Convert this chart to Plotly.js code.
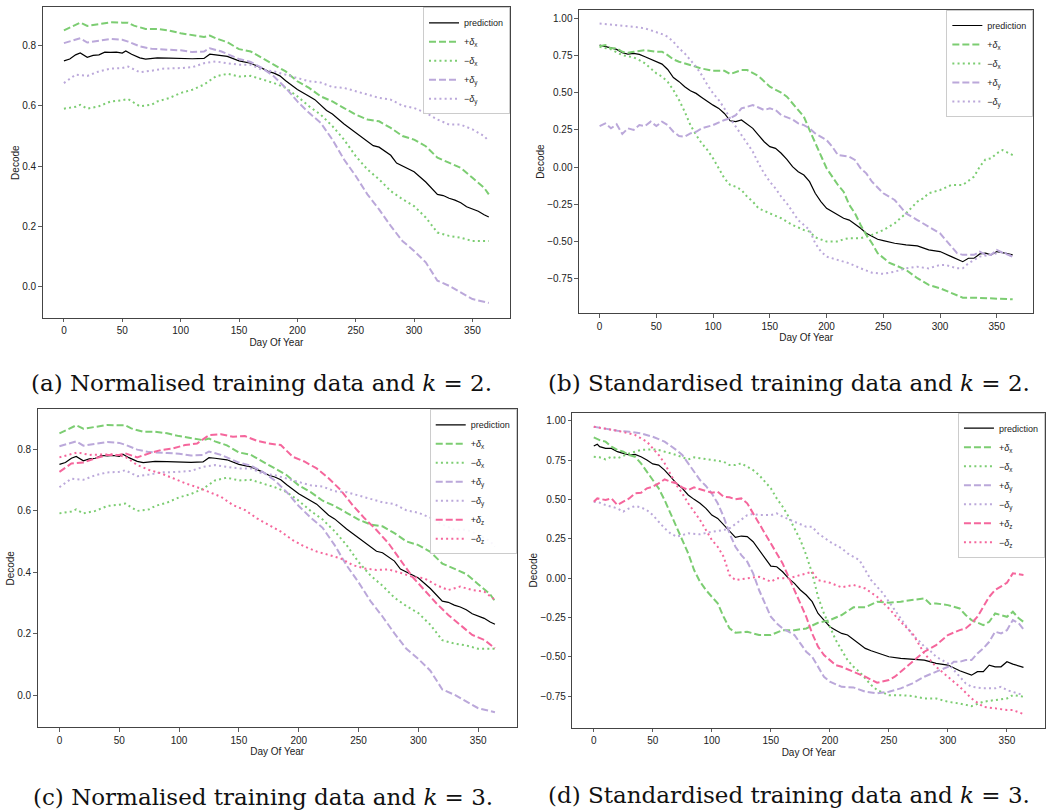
<!DOCTYPE html>
<html>
<head>
<meta charset="utf-8">
<script src="https://cdn.plot.ly/plotly-3.0.1.min.js"></script>
<style>
  html, body { margin: 0; padding: 0; background: #fff; }
  #chart { width: 1046px; height: 812px; }
</style>
</head>
<body>
<div id="chart"></div>
<script>
// ---------- Normalised training data (shared by panels a and c) ----------
const nPredDays = [0,5,10,14,20,25,30,35,40,45,50,53,58,65,70,80,90,100,110,120,125,130,140,150,160,170,175,180,185,190,200,210,215,225,230,240,250,260,265,270,280,285,290,300,310,315,320,325,330,335,340,345,350,355,360,364];
const nPredVals = [0.750,0.756,0.770,0.776,0.762,0.768,0.770,0.779,0.778,0.779,0.776,0.783,0.772,0.760,0.756,0.760,0.759,0.757,0.757,0.758,0.772,0.770,0.765,0.750,0.742,0.725,0.715,0.709,0.700,0.684,0.655,0.632,0.621,0.585,0.573,0.540,0.512,0.484,0.468,0.463,0.436,0.410,0.401,0.381,0.347,0.326,0.306,0.302,0.293,0.287,0.278,0.265,0.257,0.250,0.238,0.231];

const nPxDays = [0,10,14,20,30,40,50,55,60,70,80,90,100,110,120,125,130,140,150,160,170,180,185,190,200,210,220,230,240,250,260,270,280,290,300,310,320,330,340,350,360,364];
const nPxVals = [0.851,0.870,0.877,0.866,0.873,0.878,0.877,0.877,0.867,0.856,0.856,0.851,0.842,0.836,0.829,0.834,0.825,0.812,0.789,0.781,0.759,0.737,0.726,0.715,0.682,0.660,0.632,0.615,0.593,0.571,0.555,0.549,0.527,0.500,0.488,0.466,0.428,0.411,0.394,0.361,0.328,0.306];

const nMxDays = [0,10,14,20,30,40,50,55,65,75,80,90,100,110,120,130,140,150,160,170,180,190,200,210,220,230,240,250,260,270,280,290,300,310,320,330,340,350,364];
const nMxVals = [0.591,0.597,0.604,0.591,0.599,0.615,0.619,0.623,0.599,0.604,0.615,0.626,0.643,0.654,0.671,0.698,0.707,0.698,0.700,0.687,0.676,0.660,0.632,0.599,0.571,0.533,0.488,0.433,0.389,0.356,0.317,0.290,0.267,0.229,0.179,0.168,0.162,0.151,0.151];

const nPyDays = [0,10,14,20,30,40,50,55,65,75,90,100,110,120,125,135,150,160,170,180,190,200,210,220,230,240,250,260,270,280,290,300,310,320,330,340,350,364];
const nPyVals = [0.809,0.820,0.825,0.811,0.818,0.823,0.820,0.814,0.798,0.790,0.787,0.785,0.779,0.781,0.792,0.781,0.756,0.746,0.726,0.698,0.660,0.615,0.577,0.544,0.488,0.422,0.367,0.306,0.256,0.201,0.151,0.118,0.080,0.019,0.002,-0.020,-0.042,-0.055];

const nMyDays = [0,10,20,30,40,50,55,65,75,85,100,110,120,130,140,150,160,170,180,190,200,210,220,230,240,250,260,270,280,290,300,310,320,330,340,350,360,364];
const nMyVals = [0.676,0.704,0.700,0.715,0.724,0.726,0.731,0.712,0.717,0.724,0.726,0.729,0.742,0.748,0.742,0.737,0.737,0.720,0.715,0.704,0.693,0.682,0.678,0.663,0.660,0.649,0.638,0.627,0.621,0.601,0.593,0.577,0.555,0.538,0.538,0.522,0.500,0.483];

const nPzDays = [0,10,20,30,40,50,55,65,75,85,95,105,115,125,135,145,155,165,175,185,195,205,215,225,235,245,255,265,275,285,295,305,315,325,335,345,355,364];
const nPzVals = [0.726,0.753,0.756,0.770,0.781,0.781,0.786,0.773,0.786,0.797,0.802,0.813,0.818,0.845,0.848,0.840,0.842,0.827,0.818,0.813,0.775,0.759,0.737,0.705,0.667,0.618,0.575,0.537,0.494,0.440,0.385,0.342,0.299,0.261,0.228,0.196,0.180,0.153];

const nMzDays = [0,10,15,25,35,45,55,65,75,85,95,105,115,125,135,145,155,165,175,185,195,205,215,225,235,245,255,265,275,285,295,305,315,325,335,345,355,364];
const nMzVals = [0.773,0.784,0.789,0.781,0.781,0.783,0.775,0.748,0.732,0.721,0.705,0.689,0.676,0.661,0.645,0.618,0.602,0.575,0.553,0.532,0.504,0.483,0.467,0.456,0.445,0.423,0.412,0.407,0.409,0.398,0.385,0.380,0.358,0.342,0.353,0.342,0.337,0.310];

// ---------- Standardised training data, k = 2 (panel b) ----------
const sPredDays = [0,5,10,15,20,25,30,35,40,45,50,55,60,65,70,75,80,85,90,95,100,105,110,115,120,125,130,135,140,145,150,155,160,165,170,175,180,185,190,195,200,205,210,215,220,225,230,235,240,245,250,260,270,280,290,300,310,320,325,330,335,340,345,350,355,364];
const sPredVals = [0.821,0.810,0.799,0.792,0.769,0.760,0.765,0.758,0.742,0.724,0.709,0.693,0.657,0.603,0.575,0.541,0.514,0.496,0.469,0.440,0.417,0.395,0.361,0.312,0.306,0.317,0.290,0.261,0.216,0.171,0.138,0.126,0.093,0.052,0.003,-0.031,-0.053,-0.098,-0.176,-0.232,-0.277,-0.299,-0.322,-0.344,-0.356,-0.382,-0.411,-0.445,-0.467,-0.485,-0.494,-0.512,-0.523,-0.530,-0.557,-0.568,-0.602,-0.636,-0.613,-0.613,-0.584,-0.579,-0.590,-0.568,-0.575,-0.590];

const sPxDays = [0,5,10,15,20,25,30,40,50,55,60,65,70,80,90,100,110,115,120,125,130,135,140,150,160,165,170,175,180,185,190,195,200,205,210,215,220,225,230,235,240,245,250,255,260,270,280,290,300,310,320,330,340,350,364];
const sPxVals = [0.814,0.821,0.799,0.799,0.776,0.769,0.776,0.787,0.776,0.776,0.753,0.724,0.709,0.686,0.663,0.648,0.648,0.626,0.642,0.653,0.653,0.635,0.613,0.541,0.501,0.474,0.429,0.389,0.339,0.249,0.160,0.081,-0.008,-0.064,-0.120,-0.165,-0.254,-0.310,-0.389,-0.456,-0.512,-0.579,-0.613,-0.642,-0.658,-0.691,-0.747,-0.792,-0.815,-0.849,-0.878,-0.878,-0.882,-0.882,-0.889];

const sMxDays = [0,10,20,30,35,40,45,50,55,60,65,70,75,80,85,90,95,100,105,110,115,120,125,130,135,140,150,160,170,180,185,190,200,210,215,220,230,240,250,260,270,280,285,290,300,310,320,330,335,340,345,350,355,364];
const sMxVals = [0.810,0.792,0.753,0.738,0.720,0.698,0.664,0.631,0.608,0.574,0.518,0.451,0.373,0.283,0.216,0.160,0.115,0.059,-0.008,-0.076,-0.120,-0.132,-0.154,-0.199,-0.232,-0.277,-0.311,-0.344,-0.389,-0.423,-0.434,-0.472,-0.501,-0.501,-0.485,-0.478,-0.478,-0.456,-0.423,-0.378,-0.311,-0.232,-0.210,-0.176,-0.154,-0.120,-0.120,-0.064,0.003,0.052,0.059,0.093,0.115,0.081];

const sPyDays = [0,5,10,15,20,25,30,35,40,45,50,55,60,65,70,75,80,85,90,100,110,115,120,125,130,135,140,145,150,155,160,170,175,180,185,190,200,205,210,220,225,230,235,240,250,260,265,270,280,290,300,305,310,315,320,330,335,340,345,350,355,364];
const sPyVals = [0.276,0.294,0.261,0.288,0.223,0.261,0.250,0.283,0.276,0.306,0.276,0.306,0.283,0.238,0.209,0.205,0.227,0.238,0.261,0.283,0.317,0.328,0.350,0.395,0.406,0.417,0.401,0.384,0.395,0.384,0.350,0.321,0.294,0.283,0.261,0.227,0.182,0.138,0.081,0.070,0.048,-0.008,-0.042,-0.098,-0.176,-0.221,-0.266,-0.311,-0.356,-0.401,-0.445,-0.490,-0.535,-0.579,-0.590,-0.590,-0.568,-0.590,-0.590,-0.557,-0.575,-0.602];

const sMyDays = [0,10,20,30,40,50,55,60,65,70,75,80,85,90,95,100,105,110,115,120,125,130,135,140,145,150,155,160,165,170,175,180,185,190,195,200,210,220,230,240,250,260,270,280,290,300,305,315,320,325,335,345,355,364];
const sMyVals = [0.966,0.960,0.949,0.944,0.933,0.911,0.895,0.877,0.843,0.799,0.765,0.720,0.675,0.619,0.552,0.496,0.451,0.395,0.328,0.272,0.216,0.160,0.104,0.025,-0.042,-0.098,-0.143,-0.199,-0.244,-0.300,-0.356,-0.389,-0.423,-0.512,-0.568,-0.602,-0.625,-0.647,-0.681,-0.710,-0.718,-0.703,-0.681,-0.670,-0.681,-0.658,-0.658,-0.681,-0.681,-0.647,-0.602,-0.590,-0.568,-0.602];

// ---------- Standardised training data, k = 3 (panel d) ----------
const dPredDays = [0,3,5,10,15,20,25,30,35,40,45,50,55,60,65,70,75,80,85,90,95,100,105,110,115,120,125,130,135,140,145,150,155,160,165,170,175,180,185,190,195,200,205,210,215,220,225,230,235,240,245,250,260,270,280,290,300,310,320,325,330,335,340,345,350,355,364];
const dPredVals = [0.839,0.850,0.835,0.824,0.824,0.803,0.792,0.782,0.786,0.771,0.750,0.725,0.718,0.686,0.644,0.602,0.570,0.528,0.500,0.475,0.443,0.400,0.379,0.337,0.294,0.258,0.267,0.263,0.231,0.178,0.125,0.076,0.072,0.040,-0.002,-0.034,-0.076,-0.108,-0.150,-0.225,-0.267,-0.309,-0.331,-0.352,-0.362,-0.390,-0.415,-0.447,-0.462,-0.475,-0.489,-0.500,-0.511,-0.517,-0.521,-0.542,-0.553,-0.589,-0.617,-0.595,-0.595,-0.553,-0.564,-0.564,-0.532,-0.547,-0.568];

const dPxDays = [0,5,10,15,20,25,30,35,40,45,50,55,60,65,70,75,80,85,90,95,100,105,110,115,120,130,140,150,160,170,180,190,200,210,220,230,240,250,260,270,275,280,285,290,300,310,315,320,330,335,340,345,350,355,360,364];
const dPxVals = [0.894,0.877,0.867,0.835,0.814,0.803,0.782,0.771,0.729,0.676,0.623,0.570,0.496,0.411,0.316,0.242,0.157,0.051,-0.023,-0.076,-0.119,-0.161,-0.246,-0.320,-0.347,-0.341,-0.362,-0.362,-0.331,-0.331,-0.320,-0.284,-0.267,-0.235,-0.186,-0.186,-0.150,-0.157,-0.150,-0.140,-0.136,-0.129,-0.165,-0.161,-0.172,-0.193,-0.235,-0.267,-0.299,-0.278,-0.225,-0.235,-0.246,-0.214,-0.256,-0.278];

const dMxDays = [0,5,10,15,20,25,30,40,50,55,60,70,80,85,90,100,110,115,120,125,130,135,140,145,150,155,160,165,170,175,180,185,190,195,200,205,210,215,220,225,230,235,240,250,260,270,280,290,300,310,320,325,330,340,350,355,364];
const dMxVals = [0.771,0.767,0.754,0.771,0.761,0.775,0.792,0.814,0.818,0.814,0.803,0.782,0.754,0.767,0.761,0.750,0.739,0.718,0.718,0.729,0.708,0.686,0.655,0.612,0.570,0.506,0.453,0.390,0.316,0.242,0.146,0.030,-0.119,-0.225,-0.309,-0.394,-0.458,-0.521,-0.564,-0.595,-0.638,-0.680,-0.712,-0.744,-0.744,-0.750,-0.765,-0.765,-0.786,-0.797,-0.814,-0.801,-0.786,-0.775,-0.765,-0.744,-0.754];

const dPyDays = [0,10,20,30,40,50,60,70,75,80,85,90,95,100,105,110,115,120,125,130,135,140,145,150,155,160,165,170,175,180,185,190,195,200,210,220,230,240,250,260,270,280,290,300,305,310,315,320,325,330,335,340,345,350,355,360,364];
const dPyVals = [0.962,0.951,0.936,0.930,0.919,0.898,0.867,0.814,0.782,0.729,0.676,0.623,0.585,0.538,0.475,0.390,0.284,0.199,0.146,0.104,0.030,-0.076,-0.161,-0.246,-0.288,-0.320,-0.341,-0.362,-0.415,-0.468,-0.500,-0.564,-0.627,-0.659,-0.691,-0.695,-0.722,-0.733,-0.722,-0.701,-0.669,-0.627,-0.595,-0.564,-0.532,-0.532,-0.521,-0.521,-0.479,-0.447,-0.405,-0.341,-0.352,-0.331,-0.267,-0.288,-0.326];

const dMyDays = [0,5,10,20,25,30,35,40,45,50,55,60,65,70,75,80,90,100,110,115,120,125,130,135,140,150,155,160,170,180,185,190,200,210,215,220,225,230,235,240,245,250,255,260,265,270,275,280,285,290,300,310,315,320,330,340,345,350,355,364];
const dMyVals = [0.485,0.479,0.464,0.443,0.422,0.443,0.458,0.449,0.432,0.400,0.358,0.316,0.284,0.263,0.273,0.284,0.278,0.294,0.305,0.316,0.343,0.373,0.400,0.407,0.400,0.400,0.411,0.390,0.358,0.326,0.326,0.284,0.231,0.189,0.157,0.136,0.114,0.051,-0.013,-0.055,-0.097,-0.150,-0.203,-0.256,-0.309,-0.362,-0.394,-0.436,-0.462,-0.500,-0.542,-0.627,-0.669,-0.691,-0.701,-0.701,-0.691,-0.712,-0.722,-0.744];

const dPzDays = [0,3,10,15,20,25,30,35,40,45,50,55,60,65,70,75,80,85,90,100,105,110,115,120,125,130,135,140,145,150,155,160,165,170,175,180,185,190,195,200,205,210,220,230,240,250,255,260,270,280,290,300,310,315,320,325,330,335,340,345,350,355,360,364];
const dPzVals = [0.485,0.506,0.496,0.506,0.464,0.485,0.506,0.538,0.542,0.570,0.580,0.602,0.627,0.612,0.602,0.576,0.559,0.576,0.564,0.542,0.549,0.517,0.513,0.500,0.506,0.475,0.411,0.347,0.284,0.220,0.157,0.093,0.008,-0.076,-0.161,-0.246,-0.352,-0.436,-0.489,-0.521,-0.553,-0.564,-0.595,-0.627,-0.665,-0.648,-0.627,-0.595,-0.532,-0.468,-0.426,-0.362,-0.331,-0.320,-0.288,-0.246,-0.182,-0.119,-0.076,-0.055,-0.030,0.030,0.025,0.019];

const dMzDays = [0,10,20,30,35,40,45,50,55,60,65,70,75,80,85,90,95,100,105,110,115,120,130,140,150,155,165,175,180,185,190,200,210,220,230,240,250,260,270,280,290,300,310,320,330,340,350,355,364];
const dMzVals = [0.962,0.951,0.936,0.919,0.909,0.888,0.867,0.824,0.782,0.729,0.655,0.591,0.538,0.475,0.422,0.369,0.305,0.242,0.199,0.136,0.019,-0.013,-0.002,0.008,-0.023,-0.002,-0.002,0.019,0.030,0.040,-0.013,-0.030,-0.059,-0.044,-0.066,-0.119,-0.193,-0.278,-0.352,-0.479,-0.564,-0.627,-0.691,-0.765,-0.818,-0.828,-0.839,-0.839,-0.864];

// ---------- Labels ----------
const seriesNames = ['prediction',
  '+<i>δ</i><sub>x</sub>', '−<i>δ</i><sub>x</sub>',
  '+<i>δ</i><sub>y</sub>', '−<i>δ</i><sub>y</sub>',
  '+<i>δ</i><sub>z</sub>', '−<i>δ</i><sub>z</sub>'];
const captions = [
  '(a) Normalised training data and <i>k</i> = 2.',
  '(b) Standardised training data and <i>k</i> = 2.',
  '(c) Normalised training data and <i>k</i> = 3.',
  '(d) Standardised training data and <i>k</i> = 3.'
];
const xTicks = [0, 50, 100, 150, 200, 250, 300, 350];

// ---------- Styles ----------
const GREEN = '#7ccd72', PURPLE = '#bba8da', PINK = '#f5669c';
const styles = [
  {color: '#000000', width: 1.2, dash: 'solid'},
  {color: GREEN,  width: 2, dash: '7px,3px'},
  {color: GREEN,  width: 2, dash: '2px,3.2px'},
  {color: PURPLE, width: 2, dash: '7px,3px'},
  {color: PURPLE, width: 2, dash: '2px,3.2px'},
  {color: PINK,   width: 2, dash: '7px,3px'},
  {color: PINK,   width: 2, dash: '2px,3.2px'}
];

const panels = [
  {series: [[nPredDays,nPredVals],[nPxDays,nPxVals],[nMxDays,nMxVals],[nPyDays,nPyVals],[nMyDays,nMyVals]],
   dom: {x: [0.0408, 0.4876], y: [0.6084, 0.9910]}, yr: [-0.105, 0.928], ticks: [0, 0.2, 0.4, 0.6, 0.8], fmt: '.1f'},
  {series: [[sPredDays,sPredVals],[sPxDays,sPxVals],[sMxDays,sMxVals],[sPyDays,sPyVals],[sMyDays,sMyVals]],
   dom: {x: [0.5535, 0.9879], y: [0.6142, 0.9877]}, yr: [-0.983, 1.057], ticks: [-0.75,-0.5,-0.25,0,0.25,0.5,0.75,1], fmt: '.2f'},
  {series: [[nPredDays,nPredVals],[nPxDays,nPxVals],[nMxDays,nMxVals],[nPyDays,nPyVals],[nMyDays,nMyVals],[nPzDays,nPzVals],[nMzDays,nMzVals]],
   dom: {x: [0.0360, 0.4940], y: [0.1043, 0.4959]}, yr: [-0.104, 0.929], ticks: [0, 0.2, 0.4, 0.6, 0.8], fmt: '.1f'},
  {series: [[dPredDays,dPredVals],[dPxDays,dPxVals],[dMxDays,dMxVals],[dPyDays,dPyVals],[dMyDays,dMyVals],[dPzDays,dPzVals],[dMzDays,dMzVals]],
   dom: {x: [0.5471, 0.9990], y: [0.1038, 0.4918]}, yr: [-0.951, 1.051], ticks: [-0.75,-0.5,-0.25,0,0.25,0.5,0.75,1], fmt: '.2f'}
];

const captionPos = [[0.250, 0.528], [0.754, 0.528], [0.251, 0.019], [0.754, 0.021]];

const traces = [];
const layout = {
  width: 1046, height: 812,
  margin: {l: 0, r: 0, t: 0, b: 0},
  paper_bgcolor: '#ffffff', plot_bgcolor: '#ffffff',
  font: {family: 'Liberation Sans, Arial, sans-serif', size: 10, color: '#222'},
  annotations: []
};

panels.forEach((p, i) => {
  const n = i + 1;
  const xa = n === 1 ? 'x' : 'x' + n;
  const ya = n === 1 ? 'y' : 'y' + n;
  const lg = n === 1 ? 'legend' : 'legend' + n;

  p.series.forEach((s, k) => {
    traces.push({
      type: 'scatter', mode: 'lines',
      x: s[0], y: s[1],
      name: seriesNames[k],
      line: {color: styles[k].color, width: styles[k].width, dash: styles[k].dash},
      xaxis: xa, yaxis: ya, legend: lg,
      hoverinfo: 'skip'
    });
  });

  const axisCommon = {
    showline: true, mirror: true, linecolor: '#444', linewidth: 1,
    showgrid: false, zeroline: false,
    ticks: 'outside', ticklen: 3.5, tickwidth: 0.8, tickcolor: '#333',
    tickfont: {size: 10, color: '#222'}, automargin: false, fixedrange: true
  };

  layout[n === 1 ? 'xaxis' : 'xaxis' + n] = Object.assign({}, axisCommon, {
    domain: p.dom.x, anchor: ya, range: [-18.2, 382.2],
    tickvals: xTicks,
    title: {text: 'Day Of Year', font: {size: 10, color: '#222'}, standoff: 3}
  });
  layout[n === 1 ? 'yaxis' : 'yaxis' + n] = Object.assign({}, axisCommon, {
    domain: p.dom.y, anchor: xa, range: p.yr,
    tickvals: p.ticks, tickformat: p.fmt,
    title: {text: 'Decode', font: {size: 10, color: '#222'}, standoff: 0}
  });

  layout[lg] = {
    x: p.dom.x[1], xanchor: 'right', y: p.dom.y[1], yanchor: 'top',
    xref: 'paper', yref: 'paper',
    bgcolor: 'rgba(255,255,255,0.9)', bordercolor: '#cccccc', borderwidth: 1,
    font: {size: 9, color: '#222'}, itemwidth: 30, tracegroupgap: 0
  };

  layout.annotations.push({
    text: captions[i], xref: 'paper', yref: 'paper',
    x: captionPos[i][0], y: captionPos[i][1], xanchor: 'center', yanchor: 'middle',
    showarrow: false,
    font: {family: 'DejaVu Serif, serif', size: 23, color: '#111'}
  });
});

Plotly.newPlot('chart', traces, layout, {staticPlot: true, displayModeBar: false});
</script>
</body>
</html>
